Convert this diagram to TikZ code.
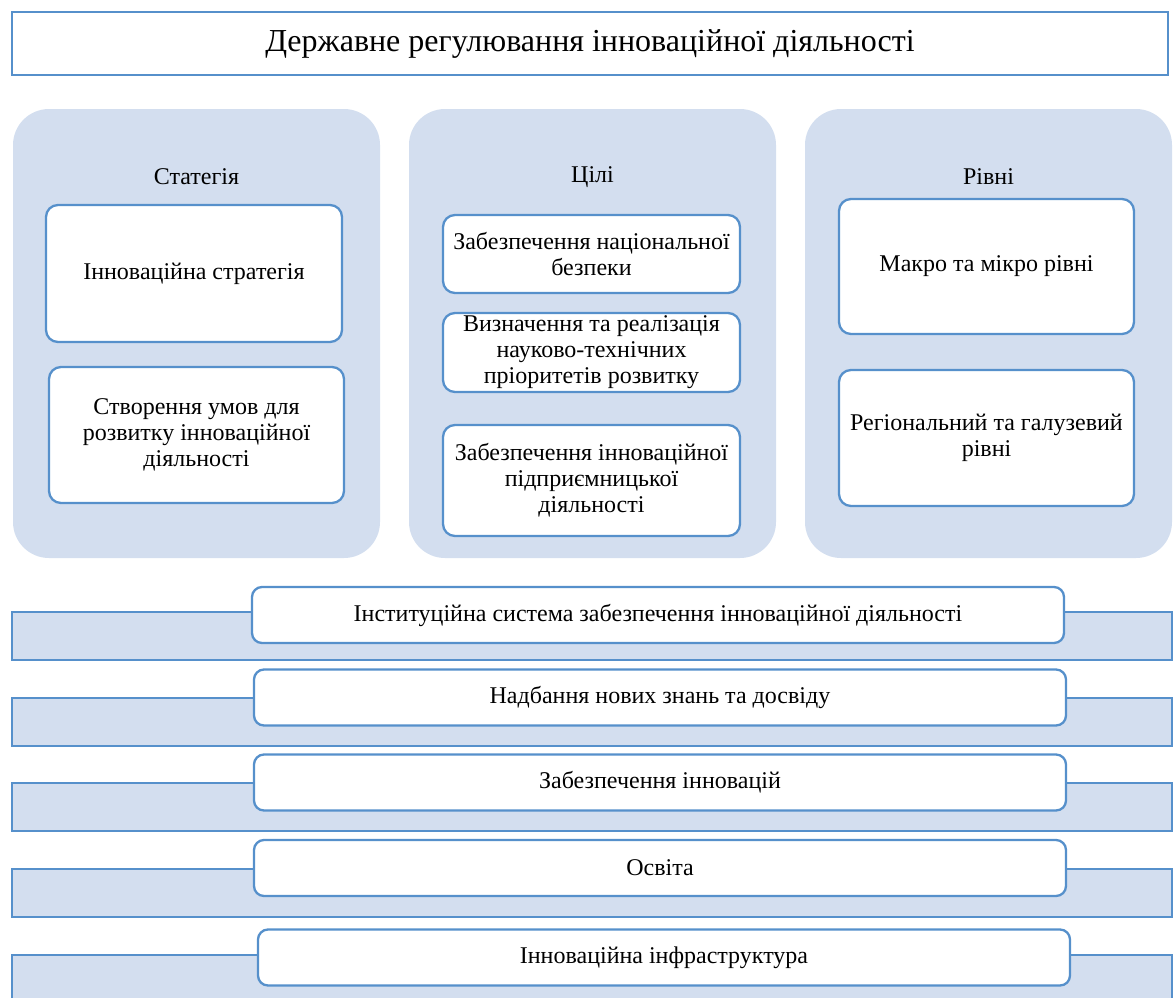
\documentclass[tikz,border=0pt]{standalone}
\usepackage{fontspec}
\setmainfont{Liberation Serif}
\definecolor{edge}{HTML}{5690CB}
\definecolor{pale}{HTML}{D3DEEF}

\begin{document}
\begin{tikzpicture}[x=1pt,y=-1pt,
  txt/.style={font=\fontsize{24}{26}\selectfont, align=center, inner sep=0pt},
  panel/.style={fill=pale, rounded corners=36pt, minimum width=367pt, minimum height=449pt},
  item/.style={txt, draw=edge, line width=2.3pt, fill=white, rounded corners=12pt},
  bar/.style={draw=edge, line width=2.3pt, fill=pale, minimum width=1160pt, minimum height=48pt},
  tab/.style={txt, draw=edge, line width=2.3pt, fill=white, rounded corners=10pt,
              minimum width=812pt, minimum height=56pt}]
\path[use as bounding box, clip] (0,0) rectangle (1173,997);
% title
\node[draw=edge, line width=2.3pt, minimum width=1156pt, minimum height=63pt,
      font=\fontsize{32}{36}\selectfont] (title) at (590,43.5)
      {Державне регулювання інноваційної діяльності};
% three columns
\node[panel] (strategy) at (196.5,333.5) {};
\node[panel] (goals)    at (592.5,333.5) {};
\node[panel] (levels)   at (988.5,333.5) {};
\node[txt] (strategy label) at (196.5,177) {Статегія};
\node[txt] (goals label)    at (592.5,177) {Цілі};
\node[txt] (levels label)   at (988.5,177) {Рівні};
% strategy
\node[item, minimum width=296pt, minimum height=137pt] (s1) at (194,273.5)
      {Інноваційна стратегія};
\node[item, minimum width=295pt, minimum height=136pt] (s2) at (196.5,435)
      {Створення умов для\\розвитку інноваційної\\діяльності};
% goals
\node[item, minimum width=297pt, minimum height=78pt] (g1) at (591.5,254)
      {Забезпечення національної\\безпеки};
\node[item, minimum width=297pt, minimum height=79pt] (g2) at (591.5,352.5)
      {Визначення та реалізація\\науково-технічних\\пріоритетів розвитку};
\node[item, minimum width=297pt, minimum height=111pt] (g3) at (591.5,480.5)
      {Забезпечення інноваційної\\підприємницької\\діяльності};
% levels
\node[item, minimum width=295pt, minimum height=135pt] (l1) at (986.5,266.5)
      {Макро та мікро рівні};
\node[item, minimum width=295pt, minimum height=136pt] (l2) at (986.5,438)
      {Регіональний та галузевий\\рівні};
% bottom bars
\node[bar] (bar1) at (592,636) {};
\node[tab] (t1) at (658,615) {Інституційна система забезпечення інноваційної діяльності};
\node[bar] (bar2) at (592,722) {};
\node[tab] (t2) at (660,697.5) {Надбання нових знань та досвіду};
\node[bar] (bar3) at (592,807) {};
\node[tab] (t3) at (660,782.5) {Забезпечення інновацій};
\node[bar] (bar4) at (592,893) {};
\node[tab] (t4) at (660,868) {Освіта};
\node[bar] (bar5) at (592,979) {};
\node[tab] (t5) at (664,957.5) {Інноваційна інфраструктура};
\end{tikzpicture}
\end{document}
